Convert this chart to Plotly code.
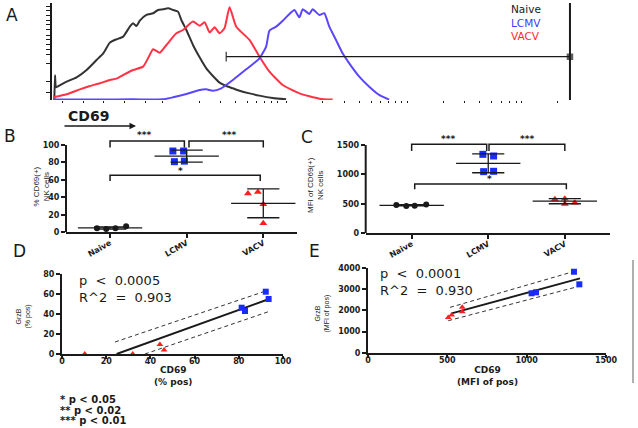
import plotly.graph_objects as go
import numpy as np

W, H = 638, 428

# ---------------- Panel A: CD69 histograms (x: channel 0-1000, y: % of max) ----------------
naive_hist_x = [4.5, 5.8, 7.7, 12.2, 28.2, 47.5, 66.8, 86, 98.9, 111.7, 124.5, 137.4, 150.2, 156.6,
                163.1, 169.5, 182.3, 195.2, 204.8, 214.4, 224.1, 233.7, 243.3, 249.7, 259.4, 272.2,
                285, 297.9, 310.7, 323.6, 336.4, 349.2, 362.1, 381.3, 400.6, 426.3, 452]
naive_hist_y = [0, 26, 13.3, 14.7, 19.3, 23.9, 31.6, 42.1, 49.1, 60.4, 63.9, 66.7, 77.2, 80.7,
                77.9, 83.5, 89.5, 91.3, 94.8, 95.5, 96.5, 94.8, 93, 84.2, 73.7, 57.9,
                44.9, 33.3, 25.3, 18.3, 14.7, 12.3, 9.8, 7, 4.6, 2.1, 0.7]
vacv_hist_x = [2.6, 28.2, 53.9, 73.2, 92.4, 111.7, 124.5, 137.4, 156.6, 175.9, 185.5, 195.2, 208,
               220.9, 240.1, 253, 272.2, 285, 294.7, 304.3, 314, 323.6, 333.2, 342.8, 355.7, 381.3,
               400.6, 419.9, 445.5, 477.6, 516.2, 541.8]
vacv_hist_y = [2.8, 6.0, 11.2, 14.7, 17.6, 21.1, 22.5, 26.3, 31.6, 35.1, 43.9, 53.4, 49.8,
               57.9, 70.2, 73.7, 82.5, 78.2, 81.9, 71, 76.5, 70.2, 75.8, 97.6, 77.2, 63.2,
               45.6, 29.8, 15.8, 7, 1.4, 0.4]
lcmv_hist_x = [2.6, 92.4, 156.6, 214.4, 233.7, 259.4, 285, 297.9, 310.7, 326.8, 349.2, 374.9,
               400.6, 413.4, 419.9, 432.7, 445.5, 458.4, 468, 477.6, 484.1, 496.9, 503.3, 516.2,
               525.8, 535.4, 548.3, 561.1, 573.9, 593.2, 612.5, 631.7, 651]
lcmv_hist_y = [0.4, 0.4, 0.7, 0.7, 2.8, 6.3, 10.5, 11.2, 9.8, 12.3, 21.1, 32.3,
               43.9, 56.2, 73, 77.2, 83.5, 90.6, 94.8, 87, 95.5, 90.6, 95.5, 89.5,
               91.3, 77.2, 63.2, 49.1, 38.6, 24.6, 14, 5.3, 0.4]
gate_x = [336.4, 1000]
gate_y = [45.6, 45.6]
hist_labels = ["Naive", "LCMV", "VACV"]

# ---------------- Panel B: % CD69(+) NK cells ----------------
groups = ["Naive", "LCMV", "VACV"]
pct_naive = [4.6, 3.8, 4.6, 6.9]
pct_lcmv = [93.1, 93.1, 80.9, 81.5]
pct_vacv = [44.3, 46.2, 32.0, 10.3]

# ---------------- Panel C: MFI of CD69(+) NK cells ----------------
mfi_naive = [481, 464, 470, 487]
mfi_lcmv = [1341, 1313, 1047, 1053]
mfi_vacv = [577, 588, 498, 520]

# ---------------- Panel D: GrzB (% pos) vs CD69 (% pos) ----------------
d_vacv_x = [10.3, 32.0, 44.3, 46.2]
d_vacv_y = [0, 0, 9.5, 4.0]
d_lcmv_x = [81.3, 82.8, 92.2, 93.5]
d_lcmv_y = [46.3, 43.0, 62.3, 55.0]
d_fit_x = [24.7, 93.4]
d_fit_y = [0, 54.7]
d_upper_x = [24.0, 92.6]
d_upper_y = [12.0, 63.3]
d_lower_x = [37.5, 93.4]
d_lower_y = [0, 42.3]

# ---------------- Panel E: GrzB (MFI of pos) vs CD69 (MFI of pos) ----------------
e_vacv_x = [506, 527, 594, 594]
e_vacv_y = [1670, 1780, 2140, 1940]
e_lcmv_x = [1031, 1059, 1298, 1332]
e_lcmv_y = [2800, 2845, 3810, 3220]
e_fit_x = [527, 1336]
e_fit_y = [1860, 3500]
e_upper_x = [517, 1315]
e_upper_y = [2140, 3860]
e_lower_x = [506, 1336]
e_lower_y = [1515, 3140]

# ---------------- styling ----------------
BLACK = "#1a1a1a"
BLUE = "#1a2bff"
RED = "#ff1f1f"
FONT = "DejaVu Sans"
LS = "Liberation Sans"

def px2paper_x(px):
    return px / W

def px2paper_y(py):
    return 1 - py / H

fig = go.Figure()

# ---- A ----
for xs, ys, col in [(naive_hist_x, naive_hist_y, "#333333"),
                    (vacv_hist_x, vacv_hist_y, "#ff3344"),
                    (lcmv_hist_x, lcmv_hist_y, "#5a46ff")]:
    fig.add_trace(go.Scatter(x=xs, y=ys, mode="lines", line=dict(color=col, width=2, shape="spline", smoothing=0.5),
                             xaxis="x", yaxis="y", hoverinfo="skip"))
fig.add_trace(go.Scatter(x=gate_x, y=gate_y, mode="lines+markers",
                         line=dict(color=BLACK, width=1.3),
                         marker=dict(symbol=["line-ns", "square"], size=[7, 5], color=BLACK,
                                     line=dict(color=BLACK, width=1.5)),
                         xaxis="x", yaxis="y", cliponaxis=False))

# ---- B & C dot plots ----
def dot_panel(xa, ya, series, offsets, mean_half=0.42, cap_half=0.21, sizes=(6, 7, 7)):
    symbols = ["circle", "square", "triangle-up"]
    colors = [BLACK, BLUE, RED]
    lx, ly = [], []
    for i, (vals, offs) in enumerate(zip(series, offsets)):
        fig.add_trace(go.Scatter(x=[i + o for o in offs], y=vals, mode="markers",
                                 marker=dict(symbol=symbols[i], size=sizes[i], color=colors[i]),
                                 xaxis=xa, yaxis=ya, cliponaxis=False))
        m = float(np.mean(vals))
        s = float(np.std(vals, ddof=1))
        lx += [i - mean_half, i + mean_half, None, i - cap_half, i + cap_half, None,
               i - cap_half, i + cap_half, None, i, i, None]
        ly += [m, m, None, m + s, m + s, None, m - s, m - s, None, m - s, m + s, None]
    fig.add_trace(go.Scatter(x=lx, y=ly, mode="lines", line=dict(color=BLACK, width=1.3),
                             xaxis=xa, yaxis=ya, cliponaxis=False))

dot_panel("x2", "y2", [pct_naive, pct_lcmv, pct_vacv],
          [[-0.17, -0.05, 0.07, 0.21], [-0.18, -0.04, -0.16, -0.03], [-0.2, -0.07, 0.0, 0.0]])
dot_panel("x3", "y3", [mfi_naive, mfi_lcmv, mfi_vacv],
          [[-0.2, -0.07, 0.04, 0.19], [-0.07, 0.07, -0.06, 0.07], [-0.13, 0.0, 0.0, 0.13]])

def brackets(xa, ya, specs):
    bx, by = [], []
    for x0, x1, top, leg in specs:
        bx += [x0, x0, x1, x1, None]
        by += [leg, top, top, leg, None]
    fig.add_trace(go.Scatter(x=bx, y=by, mode="lines", line=dict(color=BLACK, width=1.5),
                             xaxis=xa, yaxis=ya, cliponaxis=False))

brackets("x2", "y2", [(0, 0.97, 104.6, 97), (1.03, 2, 104.6, 97), (0, 1.96, 65.3, 58.8)])
brackets("x3", "y3", [(0, 0.98, 1512, 1397), (1.01, 2, 1512, 1397), (0.04, 2.02, 837, 747)])

star_font = dict(family=FONT, size=9, color=BLACK, weight="bold")
for xa, ya, items in [("x2", "y2", [(0.44, 112, "***"), (1.55, 112, "***"), (0.92, 70.5, "*")]),
                      ("x3", "y3", [(0.47, 1610, "***"), (1.5, 1610, "***"), (1.01, 925, "*")])]:
    for x, y, t in items:
        fig.add_annotation(text=t, x=x, y=y, xref=xa, yref=ya, showarrow=False, font=star_font,
                           xanchor="center", yanchor="middle")

# ---- D & E regressions ----
for xa, ya, vx, vy, lx, ly, fx, fy, ux, uy, wx, wy in [
        ("x4", "y4", d_vacv_x, d_vacv_y, d_lcmv_x, d_lcmv_y, d_fit_x, d_fit_y, d_upper_x, d_upper_y, d_lower_x, d_lower_y),
        ("x5", "y5", e_vacv_x, e_vacv_y, e_lcmv_x, e_lcmv_y, e_fit_x, e_fit_y, e_upper_x, e_upper_y, e_lower_x, e_lower_y)]:
    fig.add_trace(go.Scatter(x=ux, y=uy, mode="lines", line=dict(color="#333", width=1, dash="4px,3px"),
                             xaxis=xa, yaxis=ya))
    fig.add_trace(go.Scatter(x=wx, y=wy, mode="lines", line=dict(color="#333", width=1, dash="4px,3px"),
                             xaxis=xa, yaxis=ya))
    fig.add_trace(go.Scatter(x=fx, y=fy, mode="lines", line=dict(color=BLACK, width=2),
                             xaxis=xa, yaxis=ya))
    fig.add_trace(go.Scatter(x=vx, y=vy, mode="markers", marker=dict(symbol="triangle-up", size=6, color=RED),
                             xaxis=xa, yaxis=ya, cliponaxis=False))
    fig.add_trace(go.Scatter(x=lx, y=ly, mode="markers", marker=dict(symbol="square", size=6, color=BLUE),
                             xaxis=xa, yaxis=ya, cliponaxis=False))

stat_font = dict(family=FONT, size=13, color=BLACK)
fig.add_annotation(text="p  <  0.0005<br>R^2  =  0.903", x=6.8, y=65.5, xref="x4", yref="y4",
                   showarrow=False, xanchor="left", yanchor="middle", align="left", font=stat_font)
fig.add_annotation(text="p  <  0.0001<br>R^2  =  0.930", x=63, y=3329, xref="x5", yref="y5",
                   showarrow=False, xanchor="left", yanchor="middle", align="left", font=stat_font)

# ---------------- axes ----------------
tick_font = dict(family=FONT, size=8, color=BLACK, weight="bold")
common = dict(showgrid=False, zeroline=False, linecolor=BLACK, tickcolor=BLACK)

def dom(p0, p1, vertical=False):
    if vertical:
        return [px2paper_y(p0), px2paper_y(p1)]
    return [px2paper_x(p0), px2paper_x(p1)]

a_ticks = [8, 20, 38.6, 48.4, 53.4, 57.9, 63.2, 68.4, 73.7, 79, 83.5, 88.8, 93.7, 98.3]
a_xticks = [20, 60, 100, 140, 180, 214, 284, 325, 354, 377, 395, 411, 424, 436, 453, 523, 564,
            593, 616, 634, 650, 663, 675, 686, 756, 797, 826, 849, 867, 883, 896, 906, 976]

fig.update_layout(
    width=W, height=H, margin=dict(l=0, r=0, t=0, b=0),
    paper_bgcolor="white", plot_bgcolor="white", showlegend=False, template="none",
    xaxis=dict(domain=dom(52, 571), range=[0, 1002], anchor="y", showline=False,
               tickvals=a_xticks, ticks="outside", ticklen=2, tickwidth=1, showticklabels=False, **common),
    yaxis=dict(domain=dom(100, 3, True), range=[0, 102.1], anchor="x", showline=True, linewidth=2,
               tickvals=a_ticks, ticks="outside", ticklen=4, tickwidth=1, showticklabels=False, **common),
    xaxis2=dict(domain=dom(66, 297), range=[-0.575, 2.44], anchor="y2", showline=True, linewidth=2,
                tickvals=[0, 1, 2], ticktext=groups, tickangle=-30, ticks="outside", ticklen=4, tickwidth=1.5,
                tickfont=tick_font, ticklabelstandoff=-3, **common),
    yaxis2=dict(domain=dom(232.3, 131.9, True), range=[0, 115], anchor="x2", showline=False,
                tickvals=[0, 20, 40, 60, 80, 100], ticks="outside", ticklen=4, tickwidth=1.5,
                tickfont=tick_font, **common),
    xaxis3=dict(domain=dom(365.7, 610), range=[-0.6, 2.59], anchor="y3", showline=True, linewidth=2,
                tickvals=[0, 1, 2], ticktext=groups, tickangle=-30, ticks="outside", ticklen=4, tickwidth=1.5,
                tickfont=tick_font, ticklabelstandoff=-3, **common),
    yaxis3=dict(domain=dom(233.3, 133.2, True), range=[0, 1700], anchor="x3", showline=False,
                tickvals=[0, 500, 1000, 1500], ticks="outside", ticklen=4, tickwidth=1.5,
                tickfont=tick_font, **common),
    xaxis4=dict(domain=dom(62, 283), range=[0, 100], anchor="y4", showline=True, linewidth=2,
                tickvals=[0, 20, 40, 60, 80, 100], ticks="outside", ticklen=3, tickwidth=1.5,
                tickfont=tick_font, ticklabelstandoff=-5, **common),
    yaxis4=dict(domain=dom(354, 274, True), range=[0, 80], anchor="x4", showline=True, linewidth=2,
                tickvals=[0, 20, 40, 60, 80], ticks="outside", ticklen=4, tickwidth=1.5,
                tickfont=tick_font, **common),
    xaxis5=dict(domain=dom(368, 606), range=[0, 1500], anchor="y5", showline=True, linewidth=2,
                tickvals=[0, 500, 1000, 1500], ticks="outside", ticklen=3, tickwidth=1.5,
                tickfont=tick_font, ticklabelstandoff=-5, **common),
    yaxis5=dict(domain=dom(353, 267.7, True), range=[0, 4000], anchor="x5", showline=True, linewidth=2,
                tickvals=[0, 1000, 2000, 3000, 4000], ticks="outside", ticklen=4, tickwidth=1.5,
                tickfont=tick_font, **common),
)

# y axis lines for B and C stop at the top tick
for xr, yr, top in [("x2 domain", "y2", 100), ("x3 domain", "y3", 1500)]:
    fig.add_shape(type="line", xref=xr, yref=yr, x0=0, x1=0, y0=0, y1=top, line=dict(color=BLACK, width=2))
# A: right-hand boundary line
fig.add_shape(type="line", xref="x", yref="y", x0=1000, x1=1000, y0=0, y1=102.1, line=dict(color=BLACK, width=2))
# thin grey separator on the right of E
fig.add_shape(type="line", xref="paper", yref="paper", x0=px2paper_x(633), x1=px2paper_x(633),
              y0=px2paper_y(260), y1=px2paper_y(383), line=dict(color="#b0b0b0", width=2))

# ---------------- text ----------------
def txt(s, px, py, size, bold=False, angle=0, xanchor="center", color=BLACK, family=FONT, align="center",
        yanchor="middle"):
    fig.add_annotation(text=s, x=px2paper_x(px), y=px2paper_y(py), xref="paper", yref="paper",
                       showarrow=False, textangle=angle, xanchor=xanchor, yanchor=yanchor, align=align,
                       font=dict(family=family, size=size, color=color, weight="bold" if bold else "normal"))

# panel letters
for letter, px, py in [("A", 12, 15), ("B", 10, 136), ("C", 307, 137), ("D", 20, 251), ("E", 314, 251)]:
    txt(letter, px, py, 17)

# histogram legend (one text block, coloured lines)
legend_cols = [BLACK, "#3b3bff", "#ff2a2a"]
legend_text = "<br>".join(f"<span style='color:{c}'>{lab}</span>" for lab, c in zip(hist_labels, legend_cols))
txt(legend_text, 509, 1, 10.5, xanchor="left", align="left", yanchor="top")

# CD69 label with arrow
txt("CD69", 88, 116, 14, bold=True)
fig.add_annotation(x=px2paper_x(136), y=px2paper_y(126), xref="paper", yref="paper",
                   ax=-73, ay=0, showarrow=True, arrowhead=2, arrowsize=1, arrowwidth=1.3,
                   arrowcolor=BLACK, text="")

# y-axis titles
txt("% CD69(+)<br>NK cells", 40.5, 187, 8, angle=-90, family=LS)
txt("MFI of CD69(+)<br>NK cells", 316, 185, 8, angle=-90, family=LS)
txt("GrzB<br>(% pos)", 22.5, 316, 7, angle=-90, family=LS)
txt("GrzB<br>(MFI of pos)", 321.5, 314, 7, angle=-90, family=LS)

# x-axis titles
txt("CD69<br>(% pos)", 173, 375.5, 9, bold=True)
txt("CD69<br>(MFI of pos)", 487, 375.5, 9, bold=True)

# significance footnotes
txt("* p < 0.05", 58, 399, 10, bold=True, xanchor="left")
txt("** p < 0.02", 58, 410.5, 10, bold=True, xanchor="left")
txt("*** p < 0.01", 58, 420.5, 10, bold=True, xanchor="left")

fig.write_html("out.html", config={"displayModeBar": False},
               post_script="document.body.style.margin='0px';")
